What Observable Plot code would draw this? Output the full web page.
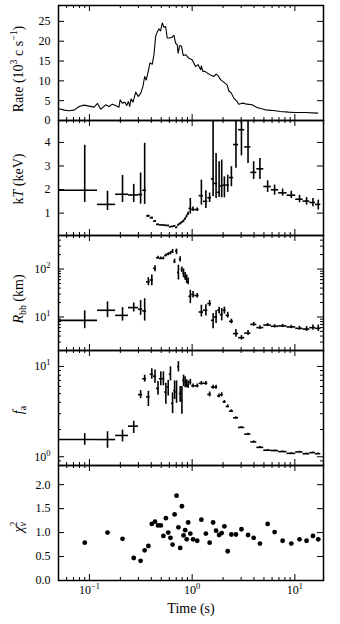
<!DOCTYPE html>
<html>
<head>
<meta charset="utf-8">
<script src="https://cdn.jsdelivr.net/npm/d3@7"></script>
<script src="https://cdn.jsdelivr.net/npm/@observablehq/plot@0.6"></script>
<style>
  html, body { margin: 0; padding: 0; background: #fff; }
  #chart { width: 340px; height: 624px; position: relative; }
  #chart svg { display: block; overflow: visible; background: transparent; }
  #chart svg text, #chart svg tspan { font-family: "Liberation Serif", "Times New Roman", serif !important; fill: #000; }
</style>
</head>
<body>
<div id="chart"></div>
<script>
// ---------------- data ----------------
// light curve
const lcTime = [0.0508,0.0568,0.0636,0.0710,0.0794,0.0888,0.0993,0.111,0.120,0.129,
  0.144,0.155,0.167,0.180,0.194,0.199,0.209,0.221,0.231,0.239,
  0.247,0.254,0.266,0.282,0.299,0.316,0.332,0.345,0.357,0.374,
  0.388,0.409,0.425,0.441,0.457,0.475,0.493,0.512,0.531,0.552,
  0.572,0.607,0.640,0.664,0.690,0.715,0.731,0.755,0.789,0.818,
  0.863,0.929,1.0,1.08,1.14,1.21,1.23,1.27,1.33,1.40,
  1.51,1.63,1.71,1.79,1.89,2.03,2.19,2.27,2.41,2.54,
  2.74,2.84,2.95,3.11,3.42,3.83,4.28,5.16,6.45,7.22,
  8.69,10.1,12.6,16.7];
const lcRate = [2.95,2.61,2.44,2.61,3.54,3.87,3.62,3.37,4.29,2.86,
  3.96,3.54,4.12,3.79,3.37,5.22,4.38,4.63,3.79,4.80,
  3.54,5.47,4.63,7.15,6.06,6.90,8.59,11.1,10.2,12.4,
  14.5,14.2,16.6,21.2,22.3,23.1,22.6,24.6,23.5,23.7,
  20.8,20.8,21.0,21.5,19.5,19.1,17.0,18.9,18.7,16.4,
  16.6,15.7,15.3,13.6,14.1,12.8,13.8,12.4,12.4,12.0,
  11.5,11.1,11.7,11.3,10.3,9.68,9.0,7.5,6.9,5.64,
  4.80,4.12,4.21,4.38,4.12,3.96,3.28,2.69,2.44,2.27,
  2.10,2.02,2.02,1.85];

// spectral time bins (centres and edges, s)
const binTime = [0.09,0.15,0.21,0.27,
  0.315,0.345,0.375,0.405,0.435,0.465,0.495,0.525,0.555,0.585,0.615,0.645,0.675,0.705,0.735,0.765,0.795,0.825,0.855,0.885,0.915,
  0.96,1.02,1.12,1.23,1.36,1.48,1.60,1.71,1.83,1.94,2.06,2.22,2.41,2.67,3.02,3.50,3.97,4.57,5.43,6.35,7.60,9.23,11.1,13.0,15.0,16.9];
const binEdges = [0.04,0.12,0.18,0.24,0.30,
  0.33,0.36,0.39,0.42,0.45,0.48,0.51,0.54,0.57,0.60,0.63,0.66,0.69,0.72,0.75,0.78,0.81,0.84,0.87,0.90,0.93,
  0.99,1.06,1.17,1.29,1.42,1.54,1.65,1.77,1.88,2.00,2.14,2.31,2.53,2.83,3.25,3.73,4.26,4.98,5.90,6.95,8.4,10.2,12.0,14.0,15.9,17.9];

// kT (keV)
const kT   = [1.97,1.37,1.80,1.77,1.79,1.97, 0.88,0.80,0.66,0.52,0.50,0.49,0.48,0.47,0.42,0.43,0.45,0.39,0.50,0.55,0.60,0.66,0.75,0.86,0.97,
  1.20,1.16,1.15,1.74,1.50,1.65,2.45,2.26,1.88,2.16,2.19,2.19,2.51,3.91,4.54,3.81,2.73,2.88,2.13,1.99,1.86,1.76,1.59,1.51,1.45,1.37];
const kTLo = [1.45,1.11,1.45,1.45,1.38,1.37, 0.84,0.76,0.63,0.50,0.48,0.47,0.46,0.45,0.40,0.41,0.42,0.36,0.46,0.51,0.56,0.61,0.70,0.80,0.90,
  0.96,1.07,1.08,1.34,1.20,1.45,1.69,1.62,1.66,1.65,1.65,1.88,2.12,2.90,3.43,3.11,2.43,2.43,1.88,1.76,1.72,1.62,1.44,1.34,1.27,1.13];
const kTHi = [3.88,1.93,2.60,2.22,2.70,3.96, 0.92,0.84,0.69,0.54,0.52,0.51,0.50,0.49,0.44,0.45,0.48,0.42,0.54,0.59,0.64,0.71,0.80,0.92,1.05,
  1.62,1.26,1.22,2.40,1.95,1.85,6.00,3.53,3.18,3.25,2.54,2.61,2.97,6.00,6.00,6.00,3.18,3.32,2.37,2.19,2.02,1.93,1.76,1.66,1.62,1.55];

// R_bb (km)
const rbb   = [8.5,13.8,10.8,15.7,14.5,13.4, 54,59,103,172,167,167,192,203,213,231,143,239,85,160,98,81,69,62,54,
  27,29.5,28,12.7,13.8,19,8.5,10,13.8,11.2,13.8,10.8,8.1,4.5,3.7,4.6,7.0,6.0,6.8,6.4,6.5,6.2,5.8,5.6,6.0,5.8];
const rbbLo = [5.7,9.7,8.2,12.7,10.8,8.2, 45,45,88,160,157,157,180,190,197,210,130,200,59,140,85,66,58,50,47,
  19,25,25,10,10.5,16.5,5.7,7.3,11.5,8.3,11.5,9.5,7.2,3.8,3.3,4.1,6.4,5.5,6.3,5.9,6.0,5.7,5.3,5.0,5.3,5.0];
const rbbHi = [13.4,20.6,15.7,19.6,22,24, 66,75,117,185,178,178,205,218,230,255,160,260,120,180,110,100,85,75,65,
  36,34,31,17.6,18,22,11.8,13.5,16,15,16,12.5,9,5.5,4.1,5.2,7.7,6.6,7.3,6.9,7.0,6.7,6.4,6.3,6.8,6.8];

// f_a
const fa   = [1.55,1.55,1.72,2.18,4.87,7.3, 4.6,8.2,7.8,5.7,7.3,7.3,5.2,5.9,8.2,3.9,5.4,5.2,10.0,5.0,4.2,7.0,6.7,6.4,6.2,
  6.7,6.1,6.1,6.5,6.5,4.9,5.9,5.9,4.7,4.85,4.05,3.6,3.2,2.7,2.11,1.78,1.46,1.27,1.18,1.17,1.14,1.09,1.13,1.08,1.11,1.08];
const faLo = [1.34,1.24,1.46,1.81,4.4,6.7, 3.6,7.2,6.5,4.8,6.1,6.1,3.8,4.7,6.9,3.0,4.3,3.9,8.7,4.0,2.95,6.0,5.8,5.8,5.7,
  6.2,5.8,5.8,6.2,6.2,4.6,5.6,5.6,4.5,4.6,3.9,3.5,3.1,2.62,2.06,1.74,1.42,1.24,1.16,1.15,1.12,1.07,1.11,1.06,1.09,1.06];
const faHi = [1.81,1.89,1.97,2.47,5.4,8.0, 5.3,9.4,9.1,6.8,8.7,8.7,6.5,7.0,9.9,5.1,6.9,6.9,11.3,6.0,6.0,8.0,7.7,7.1,6.9,
  7.2,6.4,6.4,6.8,6.8,5.2,6.2,6.2,4.95,5.1,4.2,3.75,3.3,2.78,2.16,1.82,1.50,1.30,1.20,1.19,1.16,1.11,1.15,1.10,1.13,1.10];

// reduced chi-square
const chi2 = [0.79,1.00,0.87,0.47,0.41,0.63,0.72,1.18,1.23,1.15,1.15,0.93,1.30,1.00,0.89,0.75,1.38,1.77,1.11,0.68,1.55,0.94,1.05,0.86,1.21,
  0.98,0.86,0.83,1.27,0.98,0.79,1.21,1.04,0.95,0.99,1.13,0.61,0.96,0.96,1.07,0.95,0.89,0.77,1.18,1.01,0.83,0.77,0.86,0.83,0.93,0.86];

// tick values and labels
const xDomain = [0.05, 19];
const xTickLabels = [0.1, 1, 10];
const rateTicks = [0, 5, 10, 15, 20, 25];
const kTTicks = [1, 2, 3, 4];
const rbbTicks = [10, 100];
const faTicks = [1, 10];
const chiTicks = [0, 0.5, 1, 1.5, 2];
const labels = {
  rate: "Rate (10^{3} c s^{−1})",
  kT: "k*T* (keV)",
  rbb: "*R*_{bb} (km)",
  fa: "*f*_{a}",
  chi: "*χ*^{2}|{*ν*}",
  time: "Time (s)"
};

// ---------------- helpers ----------------
const FONT = '"Liberation Serif", "Times New Roman", serif';
const W = 340, ML = 58, MR = 17, PW = W - ML - MR, PH = 115;
const MAJ = 6, MIN = 3;

function logTicks(lo, hi) {
  const major = [], minor = [];
  for (let e = Math.floor(Math.log10(lo)) - 1; e <= Math.ceil(Math.log10(hi)); e++) {
    for (let k = 1; k <= 9; k++) {
      const v = +(k * Math.pow(10, e)).toPrecision(6);
      if (v < lo * 0.9999 || v > hi * 1.0001) continue;
      (k === 1 ? major : minor).push(v);
    }
  }
  return {major, minor};
}
const fmtPow = d => "10^{" + String(Math.round(Math.log10(d))).replace("-", "−") + "}";

const xt = logTicks(xDomain[0], xDomain[1]);

function tickMarks(yMajor, yMinor) {
  const m = [];
  const xs = (vals, len) => [
    Plot.tickX(vals, {x: d => d, insetTop: PH - len, stroke: "black", strokeWidth: 1}),
    Plot.tickX(vals, {x: d => d, insetBottom: PH - len, stroke: "black", strokeWidth: 1})
  ];
  const ys = (vals, len) => [
    Plot.tickY(vals, {y: d => d, insetRight: PW - len, stroke: "black", strokeWidth: 1}),
    Plot.tickY(vals, {y: d => d, insetLeft: PW - len, stroke: "black", strokeWidth: 1})
  ];
  m.push(...xs(xt.major, MAJ), ...xs(xt.minor, MIN));
  m.push(...ys(yMajor, MAJ));
  if (yMinor && yMinor.length) m.push(...ys(yMinor, MIN));
  return m;
}

function errMarks(v, lo, hi) {
  const rows = binTime.map((t, i) => ({t, tlo: binEdges[i], thi: binEdges[i + 1], v: v[i], lo: lo[i], hi: hi[i]}));
  return [
    Plot.ruleX(rows, {x: "t", y1: "lo", y2: "hi", stroke: "black", strokeWidth: 1.6, clip: true}),
    Plot.ruleY(rows, {y: "v", x1: "tlo", x2: "thi", stroke: "black", strokeWidth: 1.6, clip: true})
  ];
}

function yLabel(text, ldy) {
  return Plot.text([text], {text: d => d, frameAnchor: "left", dx: -40, dy: ldy, rotate: -90,
    textAnchor: "middle", fontSize: 14, fill: "black"});
}

function panel({y, marks, yMajor, yMinor, label, ldy, top = 0, bottom = 0, xAxis = false}) {
  const xOpt = {type: "log", domain: xDomain, clamp: true, label: null};
  if (xAxis) Object.assign(xOpt, {axis: "bottom", ticks: xTickLabels, tickSize: 0, tickPadding: 5, tickFormat: fmtPow});
  else xOpt.axis = null;
  return Plot.plot({
    width: W, height: PH + top + bottom,
    marginLeft: ML, marginRight: MR, marginTop: top, marginBottom: bottom,
    style: {fontFamily: FONT, fontSize: "12px", background: "transparent", overflow: "visible", color: "black"},
    x: xOpt,
    y: Object.assign({clamp: true, label: null, tickSize: 0, tickPadding: 8}, y),
    marks: [
      ...marks,
      ...tickMarks(yMajor, yMinor),
      yLabel(label, ldy),
      Plot.frame({stroke: "black", strokeWidth: 1.5})
    ]
  });
}

// rich text (superscripts, subscripts, italics) in SVG text
function parseRich(s) {
  const out = []; let it = false, cur = "", i = 0;
  const push = () => { if (cur) out.push({text: cur, mode: "n", it}); cur = ""; };
  while (i < s.length) {
    const c = s[i];
    if ((c === "^" || c === "_" || c === "|") && s[i + 1] === "{") {
      push();
      const j = s.indexOf("}", i);
      let inner = s.slice(i + 2, j), iit = it;
      if (inner.length > 2 && inner[0] === "*" && inner[inner.length - 1] === "*") { inner = inner.slice(1, -1); iit = true; }
      out.push({text: inner, mode: c === "^" ? "sup" : "sub", it: iit, stack: c === "|"});
      i = j + 1;
    } else if (c === "*") { push(); it = !it; i++; }
    else { cur += c; i++; }
  }
  push();
  return out;
}
function applyRich(el) {
  el.style.fontFamily = FONT;
  const s = el.textContent;
  if (!/(\^\{|_\{|\|\{|\*)/.test(s)) return;
  const fs = parseFloat(getComputedStyle(el).fontSize) || 12;
  const segs = parseRich(s);
  el.textContent = "";
  let off = 0, prev = null;
  for (const sg of segs) {
    const ts = document.createElementNS("http://www.w3.org/2000/svg", "tspan");
    ts.textContent = sg.text;
    const target = sg.mode === "sup" ? -0.42 * fs : sg.mode === "sub" ? 0.25 * fs : 0;
    if (target !== off) ts.setAttribute("dy", (target - off).toFixed(2));
    off = target;
    if (sg.mode !== "n") ts.setAttribute("font-size", (0.7 * fs).toFixed(2));
    if (sg.it) ts.setAttribute("font-style", "italic");
    el.appendChild(ts);
    if (sg.stack && prev) ts.setAttribute("dx", (-prev.getComputedTextLength()).toFixed(2));
    prev = ts;
  }
}

// ---------------- panels ----------------
const lc = lcTime.map((t, i) => ({t, r: lcRate[i]}));
const rbbT = logTicks(2, 500), faT = logTicks(0.8, 15);
const chiRows = binTime.map((t, i) => ({t, c: chi2[i]}));

const panels = [
  panel({
    y: {domain: [0, 29], ticks: rateTicks, tickFormat: d => String(d)},
    marks: [Plot.line(lc, {x: "t", y: "r", stroke: "black", strokeWidth: 1.1})],
    yMajor: rateTicks, label: labels.rate, ldy: 6, top: 5
  }),
  panel({
    y: {domain: [0.05, 4.93], ticks: kTTicks, tickFormat: d => String(d)},
    marks: errMarks(kT, kTLo, kTHi),
    yMajor: kTTicks, label: labels.kT, ldy: 1
  }),
  panel({
    y: {type: "log", domain: [2, 500], ticks: rbbTicks, tickFormat: fmtPow},
    marks: errMarks(rbb, rbbLo, rbbHi),
    yMajor: rbbT.major, yMinor: rbbT.minor, label: labels.rbb, ldy: 6
  }),
  panel({
    y: {type: "log", domain: [0.8, 15], ticks: faTicks, tickFormat: fmtPow},
    marks: errMarks(fa, faLo, faHi),
    yMajor: faT.major, yMinor: faT.minor, label: labels.fa, ldy: 2
  }),
  panel({
    y: {domain: [0, 2.4], ticks: chiTicks, tickFormat: d => d.toFixed(1)},
    marks: [
      Plot.dot(chiRows, {x: "t", y: "c", r: 2.4, fill: "black", stroke: "none"}),
      Plot.text([labels.time], {text: d => d, frameAnchor: "bottom", dy: 32, fontSize: 14, fill: "black"})
    ],
    yMajor: chiTicks, label: labels.chi, ldy: 4, bottom: 44, xAxis: true
  })
];

const root = document.getElementById("chart");
for (const p of panels) root.appendChild(p);
root.querySelectorAll("text").forEach(applyRich);
</script>
</body>
</html>
